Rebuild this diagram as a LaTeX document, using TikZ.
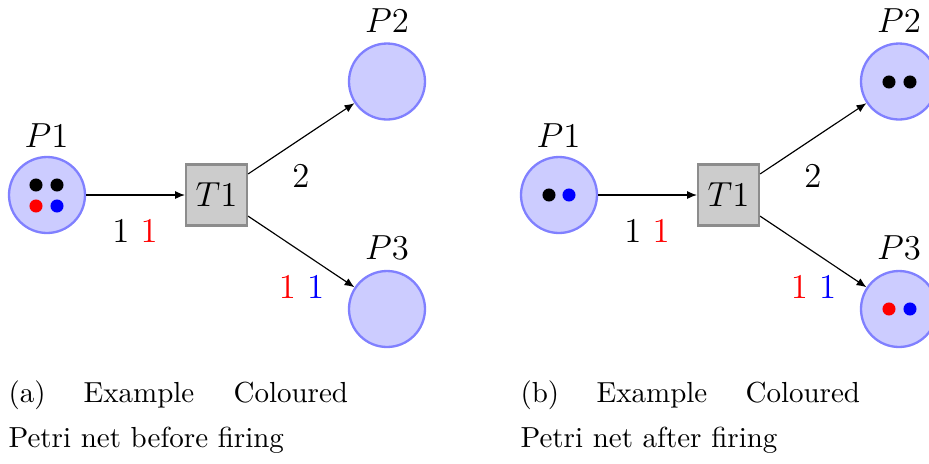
\documentclass[tikz,border=0pt]{standalone}
\usetikzlibrary{arrows.meta}
\begin{document}
\begin{tikzpicture}[x=0.3448pt,y=-0.3448pt,
  place/.style={circle,draw=blue!50,fill=blue!20,line width=0.8pt,minimum size=26.2pt,inner sep=0pt},
  trans/.style={rectangle,draw=black!45,fill=black!20,line width=0.8pt,minimum size=21pt,inner sep=0pt,font=\large},
  tok/.style={circle,fill=#1,minimum size=4.5pt,inner sep=0pt},
  lbl/.style={anchor=base,font=\large,inner sep=0pt},
  arc/.style={-{Latex[length=3.4pt,width=2.8pt]},line width=0.4pt},
  captext/.style={anchor=base west,inner sep=0pt,font=\normalsize}
]
\useasboundingbox (0,0) rectangle (929,463);
% ---------- (a) ----------
\node[place] (aP1) at (47,195) {};
\node[trans] (aT1) at (216.5,195) {$T1$};
\node[place] (aP2) at (387,81.5) {};
\node[place] (aP3) at (387,309) {};
\node[lbl] (aL1) at (46.5,147) {$P1$};
\node[lbl] (aL2) at (387,32) {$P2$};
\node[lbl] (aL3) at (387,259) {$P3$};
\node[tok=black] (at1) at (36,185) {};
\node[tok=black] (at2) at (57,185) {};
\node[tok=red] (at3) at (36,206) {};
\node[tok=blue] (at4) at (57,206) {};
\draw[arc] (aP1) -- (aT1);
\draw[arc] (aT1) -- (aP2);
\draw[arc] (aT1) -- (aP3);
\node[lbl] (aw1) at (135,242) {$1$ \textcolor{red}{$1$}};
\node[lbl] (aw2) at (301,187) {$2$};
\node[lbl] (aw3) at (301.5,298) {\textcolor{red}{$1$} \textcolor{blue}{$1$}};
\node[captext] (ac1) at (8,402) {(a)};
\node[captext] (ac2) at (83,402) {Example};
\node[captext] (ac3) at (233,402) {Coloured};
\node[captext] (ac4) at (8,447) {Petri net before firing};
% ---------- (b) ----------
\begin{scope}[shift={(512,0)}]
\node[place] (bP1) at (47,195) {};
\node[trans] (bT1) at (216.5,195) {$T1$};
\node[place] (bP2) at (387,81.5) {};
\node[place] (bP3) at (387,309) {};
\node[lbl] (bL1) at (46.5,147) {$P1$};
\node[lbl] (bL2) at (387,32) {$P2$};
\node[lbl] (bL3) at (387,259) {$P3$};
\node[tok=black] (bt1) at (37,195) {};
\node[tok=blue] (bt2) at (57,195) {};
\node[tok=black] (bt3) at (377,82) {};
\node[tok=black] (bt4) at (398,82) {};
\node[tok=red] (bt5) at (377,309) {};
\node[tok=blue] (bt6) at (398,309) {};
\draw[arc] (bP1) -- (bT1);
\draw[arc] (bT1) -- (bP2);
\draw[arc] (bT1) -- (bP3);
\node[lbl] (bw1) at (135,242) {$1$ \textcolor{red}{$1$}};
\node[lbl] (bw2) at (301,187) {$2$};
\node[lbl] (bw3) at (301.5,298) {\textcolor{red}{$1$} \textcolor{blue}{$1$}};
\node[captext] (bc1) at (8,402) {(b)};
\node[captext] (bc2) at (84,402) {Example};
\node[captext] (bc3) at (233,402) {Coloured};
\node[captext] (bc4) at (8,447) {Petri net after firing};
\end{scope}
\end{tikzpicture}
\end{document}
